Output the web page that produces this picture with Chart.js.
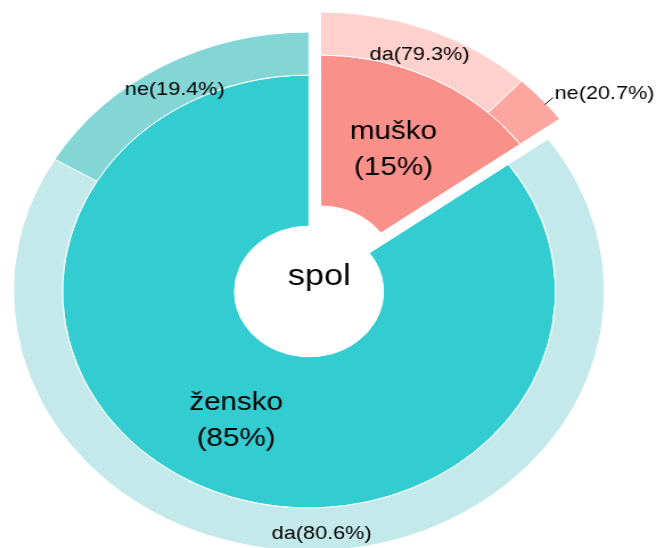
<!DOCTYPE html>
<html>
<head>
<meta charset="utf-8">
<script src="https://cdn.jsdelivr.net/npm/chart.js@4.4.0/dist/chart.umd.min.js"></script>
<style>
  html, body { margin: 0; padding: 0; background: #fff; }
  /* the reference is a round sunburst stretched sideways */
  #wrap { width: 576px; height: 548px; transform: scaleX(1.1389); transform-origin: 0 0; }
</style>
</head>
<body>
<div id="wrap"><canvas id="myChart" width="576" height="548"></canvas></div>
<script>
const centerTitle = 'spol';
const categories = ['muško', 'žensko'];
const categoryShares = [15, 85];
const answers = ['da', 'ne'];
const answerShares = [
  [79.3, 20.7],  // muško
  [80.6, 19.4]   // žensko
];

const innerColors = ['#F9918A', '#33CCD0'];
const outerColors = [['#FFD1CC', '#FCA69F'], ['#C4E9EA', '#84D5D6']];
const explodeIndex = 0;   // muško is pulled out
const explodeDist = 22.5;
const fontFamily = '"Liberation Sans", Arial, sans-serif';
const textDy = 4;

// outer ring = answers inside each category
const outerValues = [];
const outerLabels = [];
const outerParents = [];
const outerBg = [];
categories.forEach((cat, i) => {
  answers.forEach((ans, j) => {
    outerValues.push(categoryShares[i] * answerShares[i][j] / 100);
    outerLabels.push(ans + '(' + answerShares[i][j] + '%)');
    outerParents.push(i);
    outerBg.push(outerColors[i][j]);
  });
});
const innerParents = categories.map((c, i) => i);

// the muško "ne" label sits outside with a short leader
const outerNudge = [null, {seg: [19, -9, 26, -16], text: [27.5, -20]}, null, null];

function shiftFor(chart, parent) {
  if (parent !== explodeIndex) return {x: 0, y: 0};
  const arc = chart.getDatasetMeta(1).data[parent];
  const mid = (arc.startAngle + arc.endAngle) / 2;
  return {x: Math.cos(mid) * explodeDist, y: Math.sin(mid) * explodeDist};
}

const explodePlugin = {
  id: 'explode',
  beforeDatasetDraw(chart, args) {
    const ctx = chart.ctx;
    const parents = args.index === 0 ? outerParents : innerParents;
    args.meta.data.forEach((arc, k) => {
      const s = shiftFor(chart, parents[k]);
      ctx.save();
      ctx.translate(s.x, s.y);
      arc.draw(ctx);
      ctx.restore();
    });
    return false;
  }
};

const labelPlugin = {
  id: 'sunLabels',
  afterDraw(chart) {
    const ctx = chart.ctx;
    const inner = chart.getDatasetMeta(1).data;
    const outer = chart.getDatasetMeta(0).data;
    ctx.save();
    ctx.fillStyle = '#000';
    ctx.textAlign = 'center';
    ctx.textBaseline = 'middle';

    ctx.font = '30px ' + fontFamily;
    ctx.fillText(centerTitle, inner[0].x + 9, inner[0].y - 15);

    ctx.font = '26px ' + fontFamily;
    inner.forEach((arc, i) => {
      const s = shiftFor(chart, i);
      const mid = (arc.startAngle + arc.endAngle) / 2;
      const r = (arc.innerRadius + arc.outerRadius) / 2;
      const x = arc.x + s.x + Math.cos(mid) * r;
      const y = arc.y + s.y + Math.sin(mid) * r + textDy;
      ctx.fillText(categories[i], x, y - 18);
      ctx.fillText('(' + categoryShares[i] + '%)', x, y + 18);
    });

    ctx.font = '19px ' + fontFamily;
    outer.forEach((arc, k) => {
      const s = shiftFor(chart, outerParents[k]);
      const mid = (arc.startAngle + arc.endAngle) / 2;
      const r = (arc.innerRadius + arc.outerRadius) / 2;
      const x = arc.x + s.x + Math.cos(mid) * r;
      const y = arc.y + s.y + Math.sin(mid) * r;
      const n = outerNudge[k];
      if (n) {
        ctx.strokeStyle = '#000';
        ctx.lineWidth = 1;
        ctx.beginPath();
        ctx.moveTo(x + n.seg[0], y + n.seg[1]);
        ctx.lineTo(x + n.seg[2], y + n.seg[3]);
        ctx.stroke();
        ctx.textAlign = 'left';
        ctx.fillText(outerLabels[k], x + n.text[0], y + n.text[1]);
        ctx.textAlign = 'center';
      } else {
        ctx.fillText(outerLabels[k], x, y + textDy + 1);
      }
    });
    ctx.restore();
  }
};

const ctx = document.querySelector('#myChart').getContext('2d');

const data = {
  labels: categories,
  datasets: [
    {
      data: outerValues,
      backgroundColor: outerBg,
      borderColor: '#fff',
      borderWidth: 1,
      weight: 43
    },
    {
      data: categoryShares,
      backgroundColor: innerColors,
      borderColor: '#fff',
      borderWidth: 1,
      weight: 151
    }
  ]
};

const config = {
  type: 'doughnut',
  data: data,
  options: {
    responsive: false,
    animation: false,
    events: [],
    radius: 259.5,
    cutout: '25.2%',
    layout: { padding: { left: 0, right: 33.4, top: 35, bottom: 0 } },
    plugins: {
      legend: { display: false },
      tooltip: { enabled: false }
    }
  },
  plugins: [explodePlugin, labelPlugin]
};

const myChart = new Chart(ctx, config);
</script>
</body>
</html>
